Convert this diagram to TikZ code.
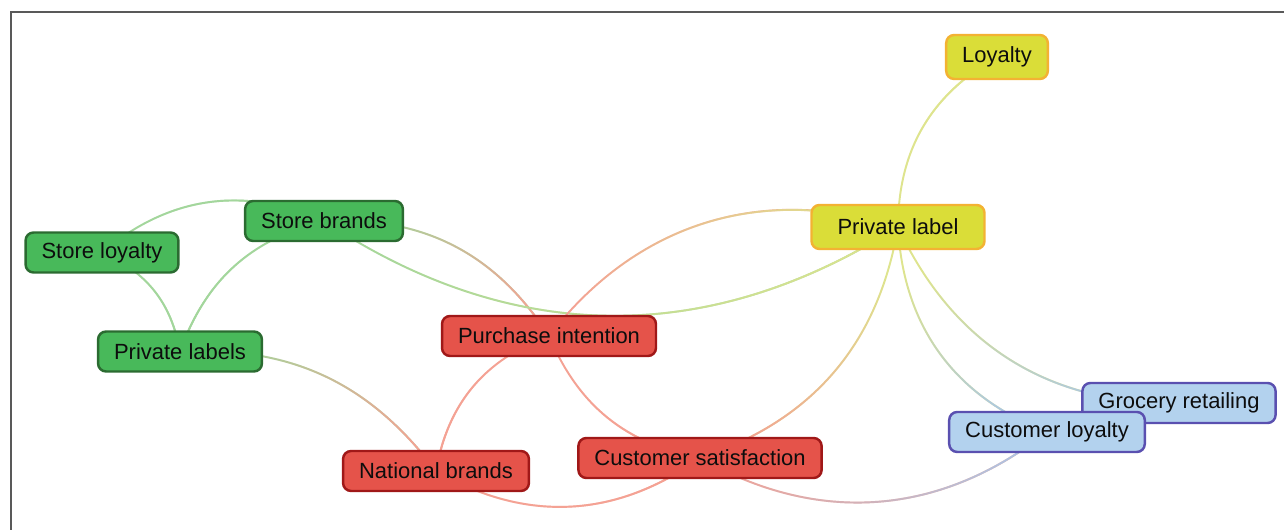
\documentclass[tikz,border=0pt]{standalone}
\usepackage{fontspec}
\setmainfont{Liberation Sans}
\usetikzlibrary{backgrounds,calc,fadings}

\definecolor{grfill}{HTML}{48B95A}
\definecolor{grline}{HTML}{2B6B31}
\definecolor{rdfill}{HTML}{E5534A}
\definecolor{rdline}{HTML}{A01818}
\definecolor{ylfill}{HTML}{DADD38}
\definecolor{ylline}{HTML}{F3B233}
\definecolor{blfill}{HTML}{B3D2EE}
\definecolor{blline}{HTML}{5A50B0}
% pale tones for the links
\definecolor{grlink}{HTML}{A3D69C}
\definecolor{rdlink}{HTML}{F4A294}
\definecolor{yllink}{HTML}{DEE48E}
\definecolor{bllink}{HTML}{A9C6E8}

\tikzset{
  topic/.style={rounded corners=0.16cm, line width=1.4pt, inner xsep=0.32cm,
    minimum height=0.8cm, text=black!95, font=\fontsize{12.5}{15}\selectfont},
  grn/.style={topic, fill=grfill, draw=grline},
  red/.style={topic, fill=rdfill, draw=rdline},
  yel/.style={topic, fill=ylfill, draw=ylline, minimum height=0.88cm},
  blu/.style={topic, fill=blfill, draw=blline},
  link/.style={line width=1.1pt},
}

% link from #1 to #2, colour #3 fading into #4, bend #5
\newcommand\link[5]{%
  \draw[link, #3] (#1.center) to[#5] (#2.center);
  \path let \p1=($(#2)-(#1)$), \n1={atan2(\y1,\x1)} in
    \pgfextra{\xdef\linkangle{\n1}};
  \draw[link, #4, path fading=west, fading angle=\linkangle]
    (#1.center) to[#5] (#2.center);
}

\begin{document}
\begin{tikzpicture}
  \useasboundingbox (0,0) rectangle (25.68,10.6);
  \draw[line width=1.2pt, black!65] (0.22,0) -- (0.22,10.36) -- (25.68,10.36);

  \path
    (2.04,5.55) node[grn] (sl) {Store loyalty}
    (6.48,6.18) node[grn] (sb) {Store brands}
    (3.60,3.57) node[grn] (pls) {Private labels}
    (10.98,3.88) node[red] (pi) {Purchase intention}
    (8.72,1.18) node[red] (nb) {National brands}
    (14.00,1.44) node[red] (cs) {Customer satisfaction}
    (17.96,6.06) node[yel, minimum width=3.46cm] (pvl) {Private label}
    (19.94,9.46) node[yel] (loy) {Loyalty}
    (23.58,2.54) node[blu] (gr) {Grocery retailing}
    (20.94,1.96) node[blu] (cl) {Customer loyalty};

  \begin{pgfonlayer}{background}
    \link{sl}{sb}{grlink}{grlink}{bend left=32}
    \link{sl}{pls}{grlink}{grlink}{bend left=28}
    \link{sb}{pls}{grlink}{grlink}{bend right=28}
    \link{sb}{pi}{grlink}{rdlink}{bend left=30}
    \link{sb}{pvl}{grlink}{yllink}{bend right=33}
    \link{pls}{nb}{grlink}{rdlink}{bend left=28}
    \link{pi}{nb}{rdlink}{rdlink}{bend right=30}
    \link{pi}{cs}{rdlink}{rdlink}{bend right=28}
    \link{pi}{pvl}{rdlink}{yllink}{bend left=35}
    \link{pvl}{loy}{yllink}{yllink}{bend left=30}
    \link{pvl}{cs}{yllink}{rdlink}{bend left=31}
    \link{pvl}{cl}{yllink}{bllink}{bend right=33}
    \link{pvl}{gr}{yllink}{bllink}{bend right=33}
    \link{nb}{cs}{rdlink}{rdlink}{bend right=33}
    \link{cs}{cl}{rdlink}{bllink}{bend right=34}
  \end{pgfonlayer}
\end{tikzpicture}
\end{document}
